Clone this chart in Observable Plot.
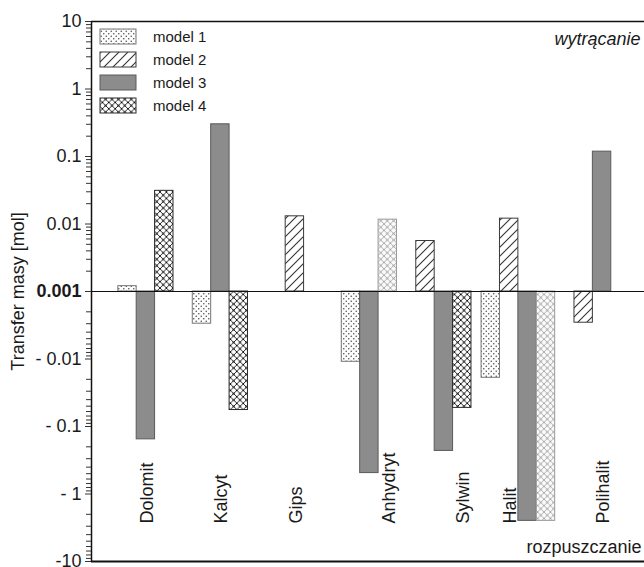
<!DOCTYPE html>
<html>
<head>
<meta charset="utf-8">
<script src="https://cdn.jsdelivr.net/npm/d3@7"></script>
<script src="https://cdn.jsdelivr.net/npm/@observablehq/plot@0.6"></script>
<style>
  html, body { margin: 0; padding: 0; background: #fff; }
  #chart { width: 644px; height: 567px; overflow: hidden; }
</style>
</head>
<body>
<div id="chart"></div>
<script>
// ---- data ----
const minerals = ["Dolomit", "Kalcyt", "Gips", "Anhydryt", "Sylwin", "Halit", "Polihalit"];
const models = ["model 1", "model 2", "model 3", "model 4"];
const model1 = [0.0012, -0.003, null, -0.011, null, -0.019, null];
const model2 = [null, null, 0.013, null, 0.0056, 0.012, -0.0029];
const model3 = [-0.155, 0.30, null, -0.49, -0.23, -2.5, 0.118];
const model4 = [0.031, -0.057, null, 0.0116, -0.053, -2.5, null];
const yTickValues = [-10, -1, -0.1, -0.01, 0.001, 0.01, 0.1, 1, 10];
const yTickLabels = ["-10", "- 1", "- 0.1", "- 0.01", "0.001", "0.01", "0.1", "1", "10"];
const topNote = "wytrącanie";
const bottomNote = "rozpuszczanie";
const yTitle = "Transfer masy [mol]";

// ---- styling / layout (not data) ----
const fadedModel4 = ["Anhydryt", "Halit"];
const labelSlot = [1, 1, 0, 2, 2, 1, 1];   // which bar of the group the label sits over
const barW = 0.247;                          // bar width in group units
const xDomain = [-0.73, 6.693];
const FONT = "'Liberation Sans', Arial, Helvetica, sans-serif";

// signed log transform around the 0.001 baseline
const tr = v => v > 0 ? Math.log10(v) + 3 : -(Math.log10(-v) + 3);

const series = [model1, model2, model3, model4];
const rows = [];
const counts = [];
minerals.forEach((m, i) => {
  const present = series.map((s, j) => ({j, v: s[i]})).filter(d => d.v != null);
  counts.push(present.length);
  present.forEach((d, k) => {
    rows.push({
      mineral: m, i, model: models[d.j], mi: d.j, k, n: present.length,
      value: d.v, t: tr(d.v),
      faded: d.j === 3 && fadedModel4.includes(m)
    });
  });
});
const bx1 = d => d.i + (d.k - d.n / 2) * barW;
const bx2 = d => d.i + (d.k - d.n / 2 + 1) * barW;

const yTicks = yTickValues.map(tr);
const minor = [];
for (let e = -3; e <= 0; e++) for (let k = 2; k <= 9; k++) {
  const v = k * Math.pow(10, e);
  minor.push(tr(v), tr(-v));
}

const fills = ["url(#pDots)", "url(#pHatch)", "#8c8c8c", "url(#pCross)"];
const strokes = ["#777", "#3a3a3a", "#5a5a5a", "#2a2a2a"];

const barMarks = [0, 1, 2, 3].map(j =>
  Plot.rectY(rows.filter(d => d.mi === j && !d.faded), {
    x1: bx1, x2: bx2, y1: 0, y2: "t",
    fill: fills[j], stroke: strokes[j], strokeWidth: 1
  })
);
barMarks.push(Plot.rectY(rows.filter(d => d.faded), {
  x1: bx1, x2: bx2, y1: 0, y2: "t",
  fill: "url(#pCrossLight)", stroke: "#9a9a9a", strokeWidth: 1
}));

const chart = Plot.plot({
  width: 644,
  height: 567,
  marginLeft: 91,
  marginRight: 0,
  marginTop: 21,
  marginBottom: 6,
  style: {fontFamily: FONT, fontSize: "18px", color: "#1a1a1a", background: "#fff"},
  x: {type: "linear", domain: xDomain, axis: null},
  y: {type: "linear", domain: [-4, 4], axis: null},
  marks: [
    ...barMarks,
    Plot.ruleY([0], {stroke: "#111", strokeWidth: 1.2}),
    Plot.ruleY([4], {stroke: "#111", strokeWidth: 1.5}),
    Plot.ruleY([-4], {stroke: "#111", strokeWidth: 2}),
    Plot.ruleX([xDomain[0]], {stroke: "#111", strokeWidth: 1.5}),
    Plot.axisY({ticks: minor, tickSize: 5, tickFormat: () => "", stroke: "#333", label: null}),
    Plot.axisY({
      ticks: yTicks, tickSize: 6, tickPadding: 4, fontSize: 18, label: null, stroke: "#333",
      tickFormat: d => yTickLabels[yTicks.findIndex(t => Math.abs(t - d) < 1e-9)]
    }),
    Plot.text([yTitle], {frameAnchor: "left", dx: -73, rotate: -90, textAnchor: "middle",
      lineAnchor: "middle", fontSize: 18, fill: "#1a1a1a"}),
    Plot.text(minerals, {
      x: (d, i) => i + (labelSlot[i] - counts[i] / 2 + 0.5) * barW,
      frameAnchor: "bottom", dy: -38, dx: 1, rotate: -90,
      textAnchor: "start", lineAnchor: "middle", fontSize: 18, fill: "#1a1a1a"
    }),
    Plot.text([topNote], {frameAnchor: "top-right", textAnchor: "end", lineAnchor: "middle",
      dx: -4, dy: 18, fontSize: 18, fontStyle: "italic", fill: "#1a1a1a"}),
    Plot.text([bottomNote], {frameAnchor: "bottom-right", textAnchor: "end", lineAnchor: "middle",
      dx: -3, dy: -14, fontSize: 18, fill: "#1a1a1a"})
  ]
});

const svg = d3.select(chart);
const defs = svg.insert("defs", ":first-child");
// dots (stipple)
const p1 = defs.append("pattern").attr("id", "pDots").attr("patternUnits", "userSpaceOnUse")
  .attr("width", 5).attr("height", 5);
p1.append("rect").attr("width", 5).attr("height", 5).attr("fill", "#fdfdfd");
p1.append("circle").attr("cx", 1.25).attr("cy", 1.25).attr("r", 0.8).attr("fill", "#555");
p1.append("circle").attr("cx", 3.75).attr("cy", 3.75).attr("r", 0.8).attr("fill", "#555");
// diagonal hatch
const p2 = defs.append("pattern").attr("id", "pHatch").attr("patternUnits", "userSpaceOnUse")
  .attr("width", 9).attr("height", 9);
p2.append("rect").attr("width", 9).attr("height", 9).attr("fill", "#fff");
p2.append("path").attr("d", "M0,9L9,0M-2,2L2,-2M7,11L11,7").attr("stroke", "#333").attr("stroke-width", 1.1);
// crosshatch with dots
function cross(id, col, bg) {
  const s = 6.4;
  const p = defs.append("pattern").attr("id", id).attr("patternUnits", "userSpaceOnUse")
    .attr("width", s).attr("height", s);
  p.append("rect").attr("width", s).attr("height", s).attr("fill", bg);
  p.append("path").attr("d", `M0,0L${s},${s}M${s},0L0,${s}`).attr("stroke", col).attr("stroke-width", 0.9);
  [[0, 0], [s, 0], [0, s], [s, s], [s / 2, s / 2]].forEach(([cx, cy]) =>
    p.append("circle").attr("cx", cx).attr("cy", cy).attr("r", 1).attr("fill", col));
}
cross("pCross", "#111", "#fff");
cross("pCrossLight", "#a8a8a8", "#fafafa");

// bold baseline label
svg.selectAll("text").filter(function () { return this.textContent === "0.001"; })
  .attr("font-weight", "bold");

// legend (inside top-left of the frame)
const lg = svg.append("g").attr("font-family", FONT).attr("font-size", 15)
  .attr("fill", "#1a1a1a").attr("text-anchor", "start");
models.forEach((m, j) => {
  const y = 29 + j * 23;
  lg.append("rect").attr("x", 100).attr("y", y).attr("width", 36).attr("height", 15)
    .attr("fill", fills[j]).attr("stroke", strokes[j]).attr("stroke-width", 1);
  lg.append("text").attr("x", 153).attr("y", y + 7.5).attr("dy", "0.35em")
    .attr("text-anchor", "start").text(m);
});

document.getElementById("chart").appendChild(chart);
</script>
</body>
</html>
